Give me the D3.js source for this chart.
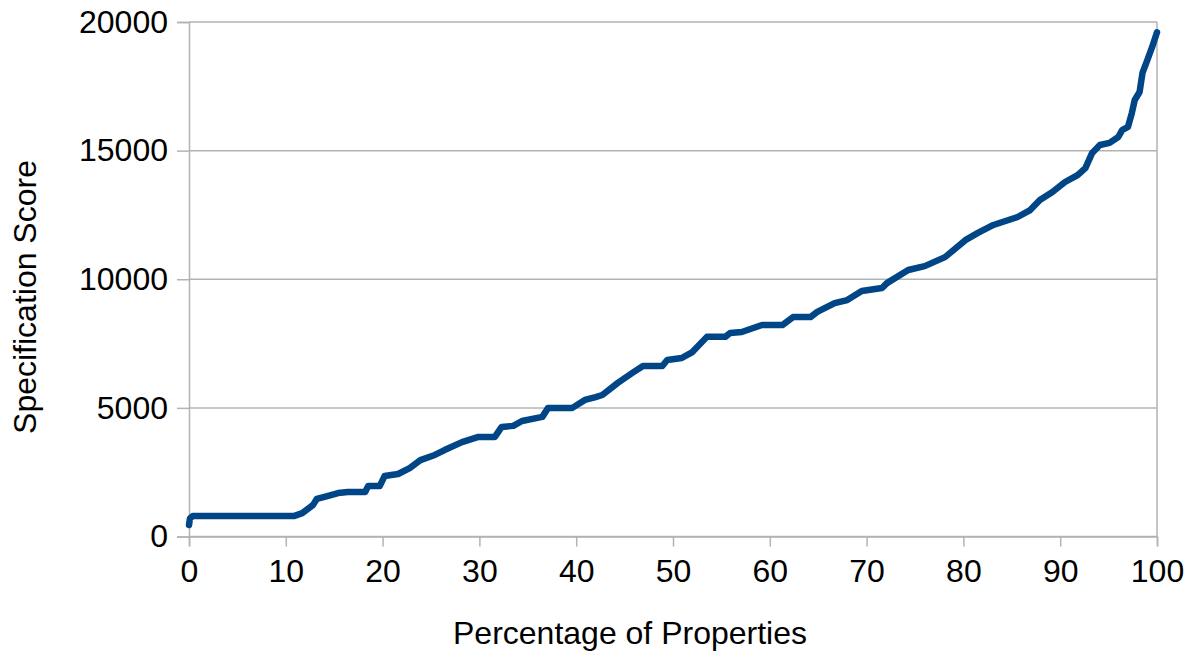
<!DOCTYPE html>
<html>
<head>
<meta charset="utf-8">
<script src="https://cdn.jsdelivr.net/npm/d3@7"></script>
<style>
  html, body { margin: 0; padding: 0; background: #ffffff; }
  svg { display: block; }
  text { font-family: "Liberation Sans", Arial, sans-serif; fill: #000; }
</style>
</head>
<body>
<svg id="chart" width="1198" height="651"></svg>
<script>
// Percentage of properties (x) and specification score (y)
const pct = [0, 0.1, 0.4, 10.9, 11.7, 12.8, 13.2, 14.0, 15.4, 16.4, 18.2, 18.5, 19.7, 20.2, 21.6,
  22.8, 23.9, 25.4, 26.4, 28.2, 29.9, 31.6, 32.3, 33.5, 34.4, 36.5, 37.1, 39.6, 40.9, 42.0,
  42.7, 44.3, 45.8, 46.9, 48.9, 49.4, 50.9, 52.0, 53.5, 55.4, 55.9, 57.1, 59.2, 61.3, 62.4,
  64.2, 64.9, 66.7, 68.0, 69.5, 71.6, 72.1, 74.3, 76.0, 78.1, 80.2, 81.5, 83.1, 85.6, 86.9,
  87.9, 89.2, 90.5, 91.8, 92.6, 93.3, 94.1, 95.1, 96.0, 96.4, 97.0, 97.4, 97.7, 98.2, 98.5,
  99.0, 99.5, 100];
const score = [450, 700, 800, 800, 910, 1220, 1460, 1540, 1690, 1730, 1730, 1960, 1960, 2350, 2430,
  2660, 2970, 3170, 3360, 3670, 3870, 3870, 4260, 4300, 4490, 4650, 5000, 5000, 5310, 5420,
  5500, 5970, 6360, 6630, 6630, 6860, 6940, 7170, 7760, 7760, 7910, 7950, 8220, 8220, 8530,
  8530, 8730, 9070, 9190, 9540, 9660, 9850, 10360, 10510, 10860, 11520, 11800, 12110, 12420, 12690,
  13080, 13390, 13780, 14050, 14320, 14910, 15220, 15300, 15530, 15800, 15920, 16460, 16970, 17280, 18020,
  18520, 19030, 19600];
const xTicks = [0, 10, 20, 30, 40, 50, 60, 70, 80, 90, 100];
const yTicks = [0, 5000, 10000, 15000, 20000];
const xTitle = "Percentage of Properties";
const yTitle = "Specification Score";

const svg = d3.select("#chart");
const plotLeft = 189, plotRight = 1157, plotTop = 22, plotBottom = 536.5;

const x = d3.scaleLinear().domain([0, 100]).range([plotLeft, plotRight]);
const y = d3.scaleLinear().domain([0, 20000]).range([plotBottom, plotTop]);

const gridColor = "#b3b3b3";
const fontSize = 32;

// horizontal gridlines
svg.append("g").selectAll("line").data(yTicks).join("line")
  .attr("x1", plotLeft).attr("x2", plotRight)
  .attr("y1", d => y(d)).attr("y2", d => y(d))
  .attr("stroke", gridColor).attr("stroke-width", 1.5);

// y axis
const yAxis = svg.append("g").attr("transform", `translate(${plotLeft},0)`)
  .call(d3.axisLeft(y).tickValues(yTicks).tickSize(12).tickPadding(9).tickFormat(d3.format("d")));
yAxis.select(".domain").attr("stroke", gridColor).attr("stroke-width", 1.5);
yAxis.selectAll(".tick line").attr("stroke", gridColor).attr("stroke-width", 1.5);
yAxis.selectAll("text").attr("font-size", fontSize).attr("font-family", "Liberation Sans, Arial, sans-serif").attr("fill", "#111");

// right border
svg.append("line").attr("x1", plotRight).attr("x2", plotRight).attr("y1", plotTop).attr("y2", plotBottom)
  .attr("stroke", gridColor).attr("stroke-width", 1.5);

// x axis
const xAxis = svg.append("g").attr("transform", `translate(0,${plotBottom})`)
  .call(d3.axisBottom(x).tickValues(xTicks).tickSize(10).tickPadding(13).tickFormat(d3.format("d")));
xAxis.select(".domain").attr("stroke", gridColor).attr("stroke-width", 1.5);
xAxis.selectAll(".tick line").attr("stroke", gridColor).attr("stroke-width", 1.5);
xAxis.selectAll("text").attr("font-size", fontSize).attr("font-family", "Liberation Sans, Arial, sans-serif").attr("fill", "#111");

// data line
const data = pct.map((p, i) => ({ p, v: score[i] }));
svg.append("path").datum(data)
  .attr("fill", "none")
  .attr("stroke", "#004586")
  .attr("stroke-width", 6.5)
  .attr("stroke-linejoin", "round")
  .attr("stroke-linecap", "round")
  .attr("d", d3.line().x(d => x(d.p)).y(d => y(d.v)));

// titles
svg.append("text").attr("x", 630).attr("y", 644).attr("text-anchor", "middle")
  .attr("font-size", fontSize).attr("fill", "#111").text(xTitle);
svg.append("text").attr("transform", "translate(36,297) rotate(-90)").attr("text-anchor", "middle")
  .attr("font-size", fontSize).attr("fill", "#111").text(yTitle);
</script>
</body>
</html>
